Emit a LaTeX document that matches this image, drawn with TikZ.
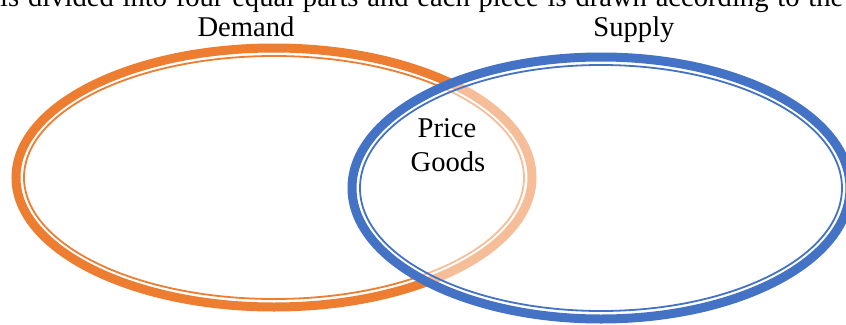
\documentclass[tikz,border=0pt]{standalone}
\usepackage{fontspec}
\setmainfont{Liberation Serif}
\definecolor{dorange}{HTML}{ED7D31}
\definecolor{sblue}{HTML}{4472C4}
\tikzset{
  thickring/.style={line width=9pt},
  thinring/.style={line width=1.8pt},
  lbl/.style={inner sep=0pt, font=\fontsize{28.6}{34}\selectfont}
}
\begin{document}
\begin{tikzpicture}[x=1pt,y=-1pt]
\useasboundingbox (0,0) rectangle (846,324);
\clip (0,0) rectangle (846,324);
% Demand ellipse
\draw[dorange,thickring] (274,177.5) ellipse [x radius=258pt, y radius=129.5pt];
\draw[dorange,thinring] (274,177.5) ellipse [x radius=250pt, y radius=121.5pt];
% fade inside supply ellipse
\fill[white,opacity=0.5] (601,188) ellipse [x radius=253pt, y radius=135pt];
% Supply ellipse
\draw[sblue,thickring] (601,188) ellipse [x radius=249pt, y radius=131pt];
\draw[sblue,thinring] (601,188) ellipse [x radius=241pt, y radius=123pt];
% texts
\node[lbl,anchor=base west] (top) at (0,6) {\makebox[843pt][s]{is divided into four equal parts and each piece is drawn according to the}};
\node[lbl,anchor=base] (demand) at (246,36) {Demand};
\node[lbl,anchor=base] (supply) at (634,36) {Supply};
\node[lbl,anchor=base] (price) at (447,137) {Price};
\node[lbl,anchor=base] (goods) at (448,171) {Goods};
\end{tikzpicture}
\end{document}
